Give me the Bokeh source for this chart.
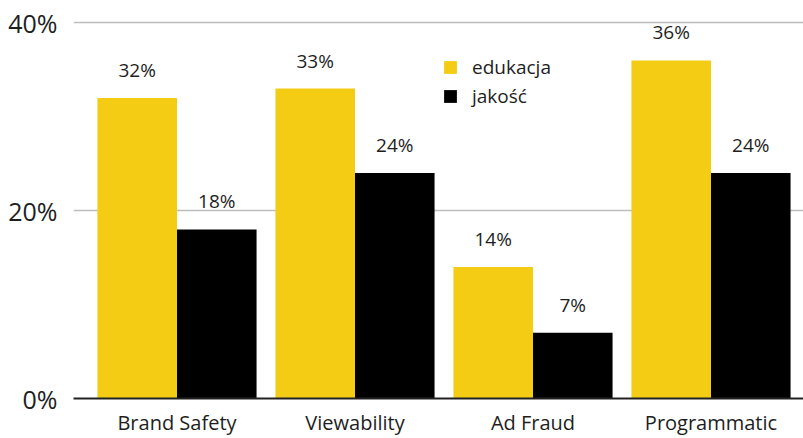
from bokeh.plotting import figure
from bokeh.models import ColumnDataSource, Range1d, FixedTicker
from bokeh.transform import dodge
from bokeh.core.properties import value
from bokeh.embed import file_html
from bokeh.resources import INLINE

# Survey results (share of respondents, %)
categories = ["Brand Safety", "Viewability", "Ad Fraud", "Programmatic"]
edukacja = [32, 33, 14, 36]
jakosc = [18, 24, 7, 24]
y_ticks = [0, 20, 40]

YELLOW = "#F5CC14"
BLACK = "#000000"
TEXT = "#1e1e1e"
FONT = "Open Sans"

xpos = [i + 0.5 for i in range(len(categories))]
src = ColumnDataSource(dict(
    x=xpos,
    edukacja=edukacja,
    jakosc=jakosc,
    edu_lbl=[f"{v:.0f}%" for v in edukacja],
    jak_lbl=[f"{v:.0f}%" for v in jakosc],
))

p = figure(
    width=803, height=438,
    x_range=Range1d(-0.0815, 4.0197),
    y_range=Range1d(0, 41.1),
    output_backend="svg", toolbar_location=None,
    min_border_left=73, min_border_right=0,
    min_border_top=12, min_border_bottom=40,
)
p.outline_line_color = None
p.background_fill_color = "white"
p.border_fill_color = "white"

bw = 0.447
off = bw / 2
p.vbar(x=dodge("x", -off, range=p.x_range), top="edukacja", width=bw, source=src,
       fill_color=YELLOW, line_color=None, legend_label="edukacja")
p.vbar(x=dodge("x", off, range=p.x_range), top="jakosc", width=bw, source=src,
       fill_color=BLACK, line_color=None, legend_label="jakość")

# value labels above the bars
for col, lbl, d in (("edukacja", "edu_lbl", -off), ("jakosc", "jak_lbl", off)):
    p.text(x=dodge("x", d, range=p.x_range), y=col, text=lbl, source=src,
           y_offset=-28, text_align="center", text_baseline="middle",
           text_font=value(FONT), text_font_size="19px", text_color=TEXT)

# axes
xa = p.xaxis[0]
xa.ticker = FixedTicker(ticks=xpos)
xa.major_label_overrides = {x: c for x, c in zip(xpos, categories)}
xa.major_tick_line_color = None
xa.minor_tick_line_color = None
xa.major_tick_out = 0
xa.major_tick_in = 0
xa.minor_tick_out = 0
xa.axis_line_color = "#222222"
xa.axis_line_width = 2
xa.major_label_standoff = 10
xa.major_label_text_font = FONT
xa.major_label_text_font_size = "20px"
xa.major_label_text_color = TEXT

ya = p.yaxis[0]
ya.ticker = FixedTicker(ticks=y_ticks)
ya.major_label_overrides = {t: f"{t}%" for t in y_ticks}
ya.axis_line_color = None
ya.major_tick_line_color = None
ya.minor_tick_line_color = None
ya.major_tick_out = 0
ya.major_tick_in = 0
ya.minor_tick_out = 0
ya.major_label_standoff = 16
ya.major_label_text_font = FONT
ya.major_label_text_font_size = "25px"
ya.major_label_text_color = TEXT

p.xgrid.grid_line_color = None
p.ygrid.ticker = FixedTicker(ticks=y_ticks[1:])
p.ygrid.grid_line_color = "#bdbdbd"
p.ygrid.grid_line_width = 1.3

lg = p.legend[0]
lg.location = (369, 289)
lg.border_line_color = None
lg.background_fill_alpha = 0
lg.padding = 0
lg.margin = 0
lg.spacing = 3
lg.glyph_width = 16
lg.glyph_height = 16
lg.label_standoff = 14
lg.label_height = 20
lg.label_text_font = FONT
lg.label_text_font_size = "19px"
lg.label_text_color = TEXT

open("out.html", "w").write(file_html(p, INLINE))
